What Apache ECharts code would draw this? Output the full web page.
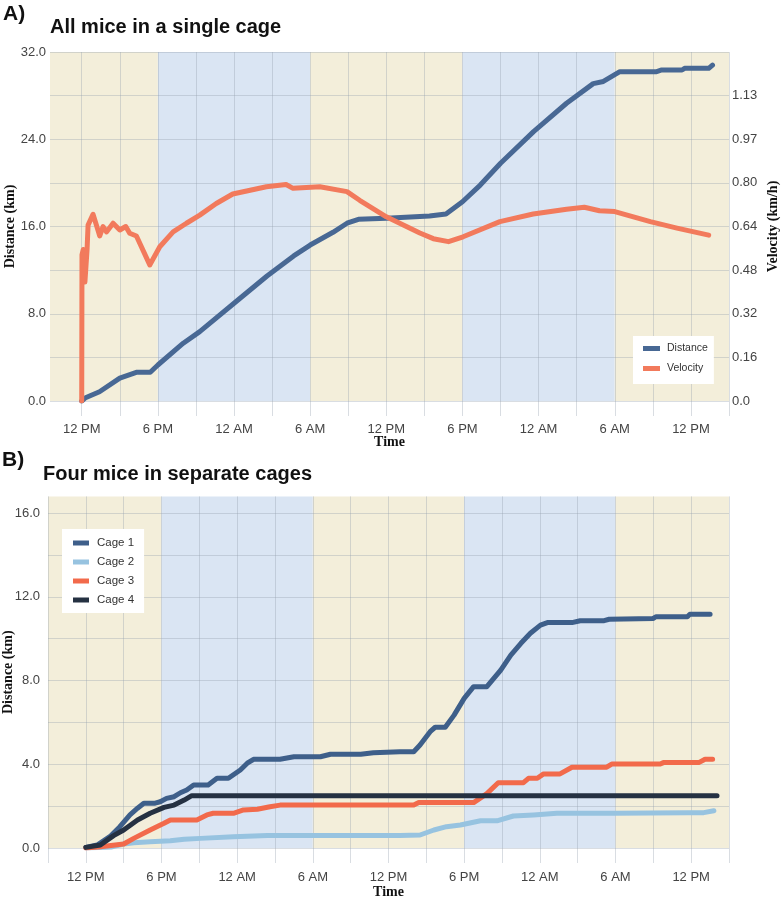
<!DOCTYPE html>
<html><head><meta charset="utf-8">
<script src="https://cdn.jsdelivr.net/npm/echarts@6/dist/echarts.min.js"></script>
<style>html,body{margin:0;padding:0;background:#fff}#c{width:782px;height:899px}</style>
</head><body><div id="c"></div>
<script>
// ---------- DATA (hours after 12 PM of day 1) ----------
const distHours = [0, 0.3, 1.4, 3.0, 4.3, 5.4, 6.0, 8.0, 9.3, 12.0, 14.6, 16.7, 18.0, 19.8, 20.9, 21.8, 24.0, 27.4, 28.7, 30.0, 31.4, 33.0, 35.6, 38.2, 40.3, 41.1, 42.4, 45.3, 45.7, 47.3, 47.5, 49.4, 49.7];
const distKm    = [0, 0.3, 0.85, 2.1, 2.63, 2.63, 3.3, 5.3, 6.36, 8.96, 11.46, 13.3, 14.3, 15.47, 16.3, 16.66, 16.75, 16.97, 17.15, 18.27, 19.8, 21.8, 24.7, 27.3, 29.1, 29.3, 30.2, 30.2, 30.35, 30.35, 30.5, 30.5, 30.8];

const velHours = [0, 0.02, 0.12, 0.25, 0.42, 0.5, 0.89, 1.16, 1.42, 1.68, 1.95, 2.47, 3.0, 3.47, 3.78, 4.31, 5.36, 6.15, 7.2, 8.25, 9.3, 10.6, 11.9, 14.55, 16.1, 16.65, 18.76, 20.9, 21.9, 24.0, 26.64, 27.7, 28.9, 30.05, 32.95, 35.57, 38.2, 39.6, 40.8, 42.0, 44.8, 46.9, 49.4];
const velKmh   = [0, 0.54, 0.56, 0.44, 0.56, 0.65, 0.69, 0.65, 0.61, 0.645, 0.625, 0.657, 0.632, 0.645, 0.62, 0.61, 0.503, 0.57, 0.625, 0.657, 0.687, 0.73, 0.765, 0.792, 0.80, 0.786, 0.792, 0.774, 0.742, 0.681, 0.621, 0.60, 0.589, 0.607, 0.663, 0.691, 0.709, 0.716, 0.703, 0.70, 0.663, 0.639, 0.613];

const cage1Hours = [0, 0.9, 1.9, 2.7, 3.5, 4.1, 4.6, 5.5, 5.9, 6.4, 7.0, 7.5, 8.0, 8.55, 9.7, 10.4, 11.3, 12.25, 12.8, 13.3, 15.4, 16.5, 18.6, 19.4, 21.8, 22.8, 24.9, 26.0, 26.5, 27.3, 27.7, 28.5, 29.2, 30.0, 30.75, 31.8, 32.9, 33.7, 34.5, 35.25, 36.05, 36.6, 38.55, 39.2, 41.1, 41.5, 45.0, 45.2, 47.7, 47.9, 49.5];
const cage1Km    = [0.03, 0.14, 0.54, 1.02, 1.58, 1.9, 2.14, 2.14, 2.21, 2.37, 2.45, 2.64, 2.77, 3.01, 3.01, 3.33, 3.33, 3.73, 4.05, 4.24, 4.24, 4.36, 4.36, 4.48, 4.48, 4.55, 4.6, 4.6, 4.92, 5.56, 5.77, 5.77, 6.35, 7.15, 7.71, 7.71, 8.5, 9.22, 9.78, 10.26, 10.65, 10.77, 10.77, 10.86, 10.86, 10.93, 10.97, 11.05, 11.05, 11.17, 11.17];

const cage2Hours = [0, 2.0, 3.0, 3.8, 5.1, 6.7, 7.8, 9.1, 11.7, 14.4, 17.0, 24.9, 26.5, 27.6, 28.6, 29.7, 31.3, 32.6, 33.9, 35.5, 37.35, 41.9, 47.7, 49.0, 49.8];
const cage2Km    = [0.0, 0.05, 0.19, 0.25, 0.3, 0.35, 0.42, 0.46, 0.54, 0.6, 0.6, 0.6, 0.62, 0.86, 1.02, 1.1, 1.3, 1.3, 1.53, 1.58, 1.66, 1.66, 1.69, 1.69, 1.78];

const cage3Hours = [0, 1.15, 3.0, 3.8, 5.1, 6.2, 6.7, 8.8, 9.6, 10.1, 11.7, 12.5, 13.6, 14.6, 15.4, 23.6, 24.9, 26.0, 26.4, 30.75, 31.8, 32.7, 34.7, 35.1, 35.8, 36.3, 37.6, 38.55, 41.3, 41.7, 45.55, 45.8, 48.6, 49.1, 49.7];
const cage3Km    = [0, 0.06, 0.19, 0.46, 0.86, 1.18, 1.34, 1.34, 1.58, 1.66, 1.66, 1.82, 1.85, 1.97, 2.05, 2.05, 2.05, 2.05, 2.17, 2.17, 2.6, 3.12, 3.12, 3.33, 3.33, 3.54, 3.54, 3.86, 3.86, 4.01, 4.01, 4.08, 4.08, 4.24, 4.24];

const cage4Hours = [0, 1.15, 2.2, 3.0, 4.1, 5.1, 6.2, 7.0, 7.8, 8.4, 50.05];
const cage4Km    = [0.03, 0.14, 0.59, 0.86, 1.34, 1.66, 1.94, 2.05, 2.29, 2.5, 2.5];

// night (lights off) periods, hours
const nightRanges = [[6, 18], [30, 42]];

// tick labels
const xTickHoursA = [0, 3, 6, 9, 12, 15, 18, 21, 24, 27, 30, 33, 36, 39, 42, 45, 48, 51];
const xTickHoursB = [-3, 0, 3, 6, 9, 12, 15, 18, 21, 24, 27, 30, 33, 36, 39, 42, 45, 48, 51];
const xLabelHours = [0, 6, 12, 18, 24, 30, 36, 42, 48];
const xLabelText  = ['12 PM', '6 PM', '12 AM', '6 AM', '12 PM', '6 PM', '12 AM', '6 AM', '12 PM'];
const velTickLabels = ['0.0', '0.16', '0.32', '0.48', '0.64', '0.80', '0.97', '1.13'];

// ---------- STYLE ----------
const BEIGE = '#F3EEDA';
const NIGHT = '#DAE5F3';
const GRIDC = 'rgba(150,160,175,0.36)';
const LABC = '#444';
const SANS = "'Liberation Sans', Arial, sans-serif";
const SERIF = "'Liberation Serif', 'Times New Roman', serif";
const C_DIST = '#486894', C_VEL = '#F27A5C';
const C_CAGE = ['#3E5F8A', '#97C3E0', '#F26A4B', '#253142'];

const pairs = (xs, ys) => xs.map((x, i) => [x, ys[i]]);
function bandData(min, max) {
  const items = []; let cur = min;
  nightRanges.forEach(([a, b]) => {
    items.push([{ xAxis: cur, itemStyle: { color: BEIGE, opacity: 1 } }, { xAxis: a }]);
    items.push([{ xAxis: a, itemStyle: { color: NIGHT, opacity: 1 } }, { xAxis: b }]);
    cur = b;
  });
  items.push([{ xAxis: cur, itemStyle: { color: BEIGE, opacity: 1 } }, { xAxis: max }]);
  return items;
}
const xLabelFmt = v => { const i = xLabelHours.indexOf(v); return i >= 0 ? xLabelText[i] : ''; };
const nameStyle = { fontFamily: SERIF, fontWeight: 'bold', fontSize: 14, color: '#111' };

function xAxisDef(grid, min, max, ticks, margin, nameGap) {
  return {
    type: 'value', gridIndex: grid, min: min, max: max,
    axisLine: { show: false }, splitLine: { show: false },
    axisTick: { show: true, customValues: ticks, length: 15, lineStyle: { color: GRIDC } },
    axisLabel: { customValues: xLabelHours, formatter: xLabelFmt, margin: margin, color: LABC, fontSize: 13, fontFamily: SANS },
    name: 'Time', nameLocation: 'middle', nameGap: nameGap, nameMoveOverlap: false,
    nameTextStyle: nameStyle
  };
}
function bgSeries(xi, yi, min, max, ticks) {
  return [{
    type: 'line', xAxisIndex: xi, yAxisIndex: yi, data: [], z: -1, silent: true,
    markArea: { z: -1, silent: true, data: bandData(min, max), label: { show: false } }
  }, {
    type: 'line', xAxisIndex: xi, yAxisIndex: yi, data: [], z: 1, silent: true,
    markLine: { z: 1, silent: true, symbol: ['none', 'none'], label: { show: false },
      lineStyle: { color: GRIDC, width: 1, type: 'solid' },
      data: ticks.map(h => ({ xAxis: h })) }
  }];
}
function lineSeries(name, data, color, xi, yi) {
  return { name: name, type: 'line', xAxisIndex: xi, yAxisIndex: yi, data: data,
    showSymbol: false, symbol: 'none', z: 2,
    lineStyle: { color: color, width: 5, cap: 'round', join: 'round' },
    itemStyle: { color: color } };
}

const chart = echarts.init(document.getElementById('c'));
chart.setOption({
  animation: false,
  backgroundColor: '#fff',
  graphic: [
    { type: 'text', left: 3, top: 4, style: { text: 'A)', font: "bold 21px " + SANS, fill: '#111' } },
    { type: 'text', left: 50, top: 17, style: { text: 'All mice in a single cage', font: "bold 20px " + SANS, fill: '#111' } },
    { type: 'text', left: 2, top: 450, style: { text: 'B)', font: "bold 21px " + SANS, fill: '#111' } },
    { type: 'text', left: 43, top: 464, style: { text: 'Four mice in separate cages', font: "bold 20px " + SANS, fill: '#111' } }
  ],
  grid: [
    { left: 50, width: 679, top: 52, height: 349, containLabel: false, outerBoundsMode: 'none' },
    { left: 48, width: 681, top: 496.4, height: 351.6, containLabel: false, outerBoundsMode: 'none' }
  ],
  legend: [
    { data: ['Distance', 'Velocity'], orient: 'vertical', left: 633, top: 336, icon: 'rect',
      itemWidth: 17, itemHeight: 5, itemGap: 9, padding: [7, 6, 10, 10], backgroundColor: '#fff',
      textStyle: { fontSize: 10.5, color: '#333', fontFamily: SANS, padding: [0, 0, 0, 2] }, selectedMode: false },
    { data: ['Cage 1', 'Cage 2', 'Cage 3', 'Cage 4'], orient: 'vertical', left: 62, top: 529, icon: 'rect',
      itemWidth: 16, itemHeight: 5, itemGap: 7, padding: [8, 10, 7, 11], backgroundColor: '#fff',
      textStyle: { fontSize: 11.5, color: '#333', fontFamily: SANS, padding: [0, 0, 0, 3] }, selectedMode: false }
  ],
  xAxis: [
    xAxisDef(0, -2.5, 51, xTickHoursA, 22, 34),
    xAxisDef(1, -3, 51, xTickHoursB, 23, 37)
  ],
  yAxis: [
    { type: 'value', gridIndex: 0, min: 0, max: 32, interval: 4,
      axisLine: { show: false }, axisTick: { show: false },
      splitLine: { show: true, lineStyle: { color: GRIDC, width: 1 } },
      axisLabel: { formatter: v => (v % 8 === 0 ? v.toFixed(1) : ''), margin: 4, color: LABC, fontSize: 13, fontFamily: SANS },
      name: 'Distance (km)', nameLocation: 'middle', nameGap: 33, nameRotate: 90, nameMoveOverlap: false, nameTextStyle: nameStyle },
    { type: 'value', gridIndex: 0, position: 'right', min: 0, max: 1.29, interval: 0.16125,
      axisLine: { show: false }, axisTick: { show: false }, splitLine: { show: false },
      axisLabel: { formatter: v => { const i = Math.round(v / 0.16125); return velTickLabels[i] || ''; },
        margin: 3, color: LABC, fontSize: 13, fontFamily: SANS },
      name: 'Velocity (km/h)', nameLocation: 'middle', nameGap: 37, nameRotate: 90, nameMoveOverlap: false, nameTextStyle: nameStyle },
    { type: 'value', gridIndex: 1, min: 0, max: 16.8, interval: 2,
      axisLine: { show: false }, axisTick: { show: false },
      splitLine: { show: true, showMaxLine: false, lineStyle: { color: GRIDC, width: 1 } },
      axisLabel: { formatter: v => (Math.abs(v % 4) < 1e-9 ? v.toFixed(1) : ''), margin: 8, color: LABC, fontSize: 13, fontFamily: SANS },
      name: 'Distance (km)', nameLocation: 'middle', nameGap: 33, nameRotate: 90, nameMoveOverlap: false, nameTextStyle: nameStyle }
  ],
  series: [
    ...bgSeries(0, 0, -2.5, 51, xTickHoursA),
    lineSeries('Distance', pairs(distHours, distKm), C_DIST, 0, 0),
    lineSeries('Velocity', pairs(velHours, velKmh), C_VEL, 0, 1),
    ...bgSeries(1, 2, -3, 51, xTickHoursB),
    lineSeries('Cage 1', pairs(cage1Hours, cage1Km), C_CAGE[0], 1, 2),
    lineSeries('Cage 2', pairs(cage2Hours, cage2Km), C_CAGE[1], 1, 2),
    lineSeries('Cage 3', pairs(cage3Hours, cage3Km), C_CAGE[2], 1, 2),
    lineSeries('Cage 4', pairs(cage4Hours, cage4Km), C_CAGE[3], 1, 2)
  ]
});
</script>
</body></html>
